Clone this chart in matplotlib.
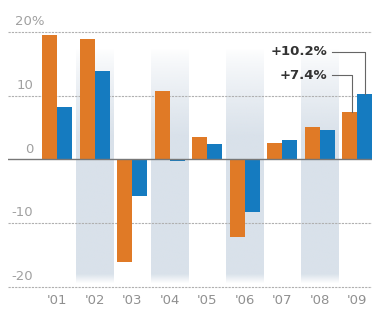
import numpy as np
import matplotlib.pyplot as plt
import matplotlib.transforms as mtransforms

years = ["'01", "'02", "'03", "'04", "'05", "'06", "'07", "'08", "'09"]
orange_vals = [19.5, 18.9, -16.0, 10.8, 3.6, -12.1, 2.6, 5.1, 7.4]
blue_vals = [8.2, 13.9, -5.8, -0.3, 2.5, -8.3, 3.0, 4.6, 10.2]
y_ticks = [20, 10, 0, -10, -20]

orange = '#e07a26'
blue = '#157bc0'

fig = plt.figure(figsize=(3.78, 3.12), dpi=100)
ax = fig.add_axes([8 / 378, 1 - 290 / 312, 364 / 378, 273 / 312])
ax.set_xlim(-1.307, 8.4)
ax.set_ylim(-20.47, 22.35)
ax.axis('off')

x = np.arange(len(years))

# shaded bands behind every other year, fading out at the top
top, bottom = 17.5, -19.5
ys = np.linspace(top, bottom, 200)
alpha = np.clip((top - ys) / 14.0, 0, 1) ** 0.8
alpha = np.minimum(alpha, np.clip((ys - bottom) / 1.5, 0, 1))
rgba = np.zeros((200, 1, 4))
rgba[..., :3] = np.array([0xd9, 0xe1, 0xea]) / 255
rgba[:, 0, 3] = alpha
for i in x[1::2]:
    ax.imshow(rgba, extent=(i - 0.5, i + 0.5, bottom, top), aspect='auto',
              interpolation='bilinear', zorder=0)

# grid
for t in y_ticks:
    if t == 0:
        ax.axhline(0, color='#777777', lw=1.0, zorder=3)
    else:
        ax.axhline(t, color='#b0b0b0', lw=0.8, ls=(0, (2, 1)), zorder=1)

ax.bar(x - 0.2, orange_vals, width=0.4, color=orange, zorder=2)
ax.bar(x + 0.2, blue_vals, width=0.4, color=blue, zorder=2)

# y labels sitting above the grid lines
for t in y_ticks:
    if t == 20:
        ax.text(-1.12, t + 0.6, '%d%%' % t, ha='left', va='bottom',
                fontsize=9.5, color='#a0a0a0')
    else:
        ax.text(-0.64, t + 0.6, '%d' % t, ha='right', va='bottom',
                fontsize=9.5, color='#a0a0a0')

# x labels
trans = mtransforms.blended_transform_factory(ax.transData, ax.transAxes)
for i, lab in enumerate(years):
    ax.text(i, -0.015, lab, transform=trans, ha='center', va='top',
            fontsize=9.5, color='#909090')

# annotations on the last pair
last = len(years) - 1
labels = [('+%.1f%%' % blue_vals[last], 16.9, last + 0.2),
          ('+%.1f%%' % orange_vals[last], 13.25, last - 0.14)]
for (txt, ty, bx), val in zip(labels, [blue_vals[last], orange_vals[last]]):
    ax.text(7.2, ty, txt, ha='right', va='center', fontsize=9.5,
            fontweight='bold', color='#333333')
    ax.plot([7.33, bx, bx], [ty, ty, val], color='#666666', lw=0.8, zorder=4)

fig.savefig('out.png', dpi=100)
